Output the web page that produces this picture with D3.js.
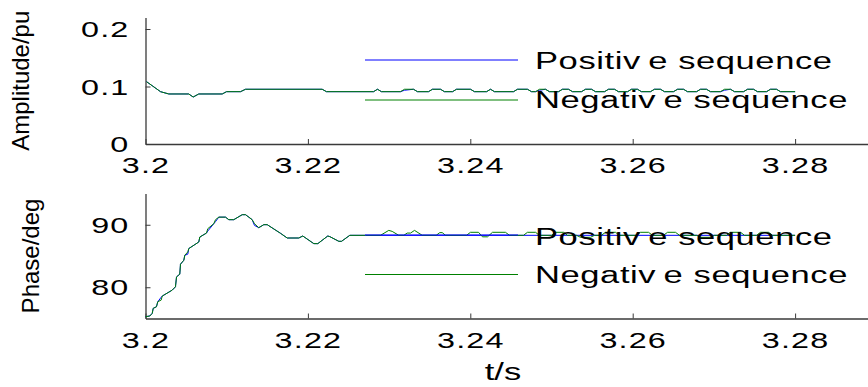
<!DOCTYPE html>
<html>
<head>
<meta charset="utf-8">
<script src="https://cdn.jsdelivr.net/npm/d3@7"></script>
<style>
  html, body { margin: 0; padding: 0; background: #fff; }
  svg { display: block; }
  text { font-family: "Liberation Sans", Arial, sans-serif; fill: #000; }
</style>
</head>
<body>
<svg id="chart" width="868" height="387"></svg>
<script>
// ---- axis ticks ----
const xTicks = [3.2, 3.22, 3.24, 3.26, 3.28];
const xTickLabels = ["3.2", "3.22", "3.24", "3.26", "3.28"];
const ampTicks = [0, 0.1, 0.2];
const ampTickLabels = ["0", "0.1", "0.2"];
const phaseTicks = [80, 90];
const phaseTickLabels = ["80", "90"];

// ---- series names ----
const seriesNames = ["Positive sequence", "Negative sequence"];

// ---- amplitude (pu) ----
const tAmp = [
  3.20012, 3.20185, 3.20287, 3.20533, 3.20587, 3.20656, 3.20945, 3.20998, 3.21170, 3.21232,
  3.22176, 3.22229, 3.22808, 3.22857, 3.22906, 3.23140, 3.23190, 3.23300, 3.23350, 3.23485,
  3.23534, 3.23633, 3.23682, 3.23781, 3.23830, 3.24002, 3.24052, 3.24200, 3.24249, 3.24298,
  3.24532, 3.24581, 3.24704, 3.24754,
  3.24803, 3.24852, 3.24926, 3.24975,
  3.25086, 3.25135, 3.25209, 3.25259,
  3.25369, 3.25419, 3.25493, 3.25542,
  3.25653, 3.25702, 3.25776, 3.25825,
  3.25936, 3.25985, 3.26059, 3.26108,
  3.26219, 3.26268, 3.26342, 3.26392,
  3.26502, 3.26552, 3.26626, 3.26675,
  3.26786, 3.26835, 3.26909, 3.26958,
  3.27081, 3.27131, 3.27204, 3.27254,
  3.27365, 3.27414, 3.27488, 3.27537,
  3.27648, 3.27697, 3.27771, 3.27820,
  3.28000
];
const ampNeg = [
  0.1085, 0.0910, 0.0870, 0.0870, 0.0817, 0.0870, 0.0870, 0.0910, 0.0910, 0.0952,
  0.0952, 0.0910, 0.0910, 0.0952, 0.0910, 0.0910, 0.0952, 0.0952, 0.0910, 0.0910,
  0.0952, 0.0952, 0.0910, 0.0910, 0.0952, 0.0952, 0.0910, 0.0910, 0.0952, 0.0910,
  0.0910, 0.0952, 0.0952, 0.0910,
  0.0910, 0.0952, 0.0952, 0.0910,
  0.0910, 0.0952, 0.0952, 0.0910,
  0.0910, 0.0952, 0.0952, 0.0910,
  0.0910, 0.0952, 0.0952, 0.0910,
  0.0910, 0.0952, 0.0952, 0.0910,
  0.0910, 0.0952, 0.0952, 0.0910,
  0.0910, 0.0952, 0.0952, 0.0910,
  0.0910, 0.0952, 0.0952, 0.0910,
  0.0910, 0.0952, 0.0952, 0.0910,
  0.0910, 0.0952, 0.0952, 0.0910,
  0.0910, 0.0952, 0.0952, 0.0910,
  0.0910
];
const ampPos = [
  0.1085, 0.0910, 0.0870, 0.0870, 0.0817, 0.0870, 0.0870, 0.0910, 0.0910, 0.0952,
  0.0952, 0.0910, 0.0910, 0.0952, 0.0910, 0.0910, 0.0935, 0.0952, 0.0910, 0.0910,
  0.0952, 0.0952, 0.0910, 0.0910, 0.0952, 0.0952, 0.0910, 0.0910, 0.0952, 0.0910,
  0.0910, 0.0952, 0.0952, 0.0910,
  0.0910, 0.0935, 0.0952, 0.0910,
  0.0910, 0.0952, 0.0952, 0.0910,
  0.0910, 0.0952, 0.0952, 0.0910,
  0.0910, 0.0952, 0.0952, 0.0910,
  0.0910, 0.0952, 0.0952, 0.0910,
  0.0910, 0.0952, 0.0952, 0.0910,
  0.0910, 0.0952, 0.0952, 0.0910,
  0.0910, 0.0952, 0.0952, 0.0910,
  0.0910, 0.0935, 0.0952, 0.0910,
  0.0910, 0.0952, 0.0952, 0.0910,
  0.0910, 0.0952, 0.0952, 0.0910,
  0.0910
];

// ---- phase (deg) ----
const tPhasePos = [
  3.20000, 3.20053, 3.20083, 3.20095, 3.20135, 3.20151, 3.20193, 3.20206, 3.20329, 3.20369,
  3.20382, 3.20422, 3.20431, 3.20472, 3.20484, 3.20521, 3.20533, 3.20656, 3.20669, 3.20751,
  3.20767, 3.20841, 3.20862, 3.20903, 3.20985, 3.21026, 3.21087, 3.21191, 3.21232, 3.21314,
  3.21342, 3.21395, 3.21457, 3.21499, 3.21663, 3.21745, 3.21888, 3.21937, 3.22073, 3.22122,
  3.22245, 3.22270, 3.22381, 3.22414, 3.22516, 3.22709, 3.28000
];
const phasePos = [
  75.29, 75.40, 75.83, 76.63, 76.88, 77.68, 78.40, 78.59, 79.54, 80.07,
  81.66, 82.09, 83.69, 84.32, 85.12, 85.30, 86.19, 87.24, 88.04, 88.67,
  89.00, 90.17, 90.50, 91.22, 91.22, 90.81, 90.81, 91.61, 91.61, 90.81,
  89.90, 89.53, 90.01, 90.01, 88.63, 87.88, 87.88, 88.20, 86.98, 86.98,
  88.20, 88.10, 87.35, 87.35, 88.31, 88.31, 88.31
];
const tPhaseNeg = [
  3.20000, 3.20053, 3.20083, 3.20095, 3.20135, 3.20151, 3.20193, 3.20206, 3.20329, 3.20369,
  3.20382, 3.20422, 3.20431, 3.20472, 3.20484, 3.20521, 3.20533, 3.20656, 3.20669, 3.20751,
  3.20767, 3.20841, 3.20862, 3.20903, 3.20985, 3.21026, 3.21087, 3.21191, 3.21232, 3.21314,
  3.21342, 3.21395, 3.21457, 3.21499, 3.21663, 3.21745, 3.21888, 3.21937, 3.22073, 3.22122,
  3.22245, 3.22270, 3.22381, 3.22414, 3.22516, 3.22709,
  3.22894, 3.22996, 3.23038, 3.23119, 3.23181, 3.23223, 3.23264, 3.23313, 3.23408, 3.23580,
  3.23624, 3.23654, 3.23695, 3.23953, 3.24002, 3.24101, 3.24150, 3.24212, 3.24273, 3.24433,
  3.24483, 3.24655, 3.24704, 3.24803, 3.24852, 3.25000, 3.25049, 3.25148, 3.25197, 3.25308,
  3.25357, 3.25480, 3.25530, 3.25616, 3.25665, 3.25788, 3.25837, 3.26047, 3.26096, 3.26195,
  3.26244, 3.26379, 3.26429, 3.26527, 3.26576, 3.26786, 3.26835, 3.26958, 3.27007, 3.27155,
  3.27204, 3.27328, 3.27377, 3.27525, 3.27574, 3.27672, 3.27722, 3.28000
];
const phaseNeg = [
  75.29, 75.40, 75.83, 76.63, 76.88, 77.68, 77.95, 78.59, 79.54, 80.07,
  81.66, 82.09, 83.69, 84.32, 85.12, 85.65, 86.19, 87.24, 88.04, 88.67,
  89.37, 90.17, 90.81, 91.22, 91.22, 90.81, 90.81, 91.61, 91.61, 90.81,
  90.17, 89.53, 90.01, 90.01, 88.63, 87.88, 87.88, 88.20, 86.98, 86.98,
  88.20, 88.10, 87.35, 87.35, 88.31, 88.31,
  88.31, 89.10, 88.94, 88.31, 88.31, 88.67, 88.67, 89.10, 88.31, 88.31,
  88.74, 88.74, 88.31, 88.31, 88.79, 88.79, 88.07, 88.07, 88.79, 88.79,
  88.31, 88.31, 88.79, 88.79, 88.31, 88.31, 88.79, 88.79, 88.31, 88.31,
  87.99, 87.99, 88.31, 88.31, 88.79, 88.79, 88.31, 88.31, 88.79, 88.79,
  88.31, 88.31, 88.79, 88.79, 88.31, 88.31, 87.99, 87.99, 88.31, 88.31,
  88.79, 88.79, 88.31, 88.31, 88.79, 88.79, 88.31, 88.31
];

// ---- drawing ----
const svg = d3.select("#chart");
const COLORS = { pos: "#0000ff", neg: "#008000" };
const AXIS_COLOR = "#3a3a3a";
const TICK_FONT = 22, LEGEND_FONT = 23.5, LABEL_FONT = 24;
const STRETCH = 1.47;   // horizontal glyph stretch of the figure's text

const x = d3.scaleLinear().domain([3.2, 3.3]).range([145.5, 957.5]);
const yAmp = d3.scaleLinear().domain([0, 0.22]).range([144, 17.5]);
const yPhase = d3.scaleLinear().domain([75, 95]).range([318.5, 193.5]);

function zip(ts, vs) { return ts.map((t, i) => [t, vs[i]]); }

function styleXAxis(g, labels) {
  g.select(".domain").attr("stroke", AXIS_COLOR).attr("stroke-width", 1.3);
  g.selectAll(".tick line").attr("stroke", AXIS_COLOR).attr("stroke-width", 1);
  g.selectAll(".tick text")
    .text((d, i) => labels[i])
    .attr("x", 0).attr("y", 0).attr("dy", null)
    .attr("transform", "translate(0,29) scale(" + STRETCH + ",1)")
    .attr("font-size", TICK_FONT)
    .attr("font-family", null)
    .style("letter-spacing", "0.8px")
    .attr("fill", "#000");
}
function styleYAxis(g, labels) {
  g.select(".domain").attr("stroke", AXIS_COLOR).attr("stroke-width", 1.3);
  g.selectAll(".tick line").attr("stroke", AXIS_COLOR).attr("stroke-width", 1);
  g.selectAll(".tick text")
    .text((d, i) => labels[i])
    .attr("x", 0).attr("dy", "0.35em")
    .attr("transform", "translate(-16,0) scale(" + STRETCH + ",1)")
    .attr("font-size", TICK_FONT)
    .attr("font-family", null)
    .style("letter-spacing", "0.8px")
    .attr("fill", "#000");
}

function panel(yScale, yTicks, yLabels, series, legendY, yTitle, yTitleX) {
  const xAxisY = yScale.range()[0];
  const gx = svg.append("g").attr("transform", "translate(0," + xAxisY + ")")
    .call(d3.axisBottom(x).tickValues(xTicks).tickSizeInner(-5).tickSizeOuter(0));
  styleXAxis(gx, xTickLabels);

  const gy = svg.append("g").attr("transform", "translate(" + x.range()[0] + ",0)")
    .call(d3.axisLeft(yScale).tickValues(yTicks).tickSizeInner(-5).tickSizeOuter(0));
  styleYAxis(gy, yLabels);

  const line = d3.line().x(d => x(d[0])).y(d => yScale(d[1]));
  series.forEach(s => {
    svg.append("path").datum(s.data)
      .attr("fill", "none").attr("stroke", s.color).attr("stroke-width", 1)
      .attr("stroke-linejoin", "round")
      .attr("d", line);
  });

  // legend (no frame)
  series.forEach((s, i) => {
    const ly = legendY[i];
    svg.append("line")
      .attr("x1", 365).attr("x2", 518).attr("y1", ly.line).attr("y2", ly.line)
      .attr("stroke", s.color).attr("stroke-width", 1);
    const t = svg.append("text")
      .attr("transform", "translate(535," + ly.text + ") scale(" + STRETCH + ",1)")
      .attr("font-size", LEGEND_FONT)
      .style("letter-spacing", "0.4px");
    const name = s.name;
    const cut = name.indexOf("e ");
    t.append("tspan").text(name.slice(0, cut));
    t.append("tspan").attr("dx", 5).text(name.slice(cut));
  });

  // y axis title
  const mid = (yScale.range()[0] + yScale.range()[1]) / 2;
  svg.append("text")
    .attr("transform", "translate(" + yTitleX + "," + mid + ") rotate(-90)")
    .attr("text-anchor", "middle")
    .attr("font-size", LABEL_FONT)
    .text(yTitle);
}

panel(yAmp, ampTicks, ampTickLabels, [
  { name: seriesNames[0], color: COLORS.pos, data: zip(tAmp, ampPos) },
  { name: seriesNames[1], color: COLORS.neg, data: zip(tAmp, ampNeg) }
], [{ line: 60, text: 69 }, { line: 100, text: 108 }], "Amplitude/pu", 29);

panel(yPhase, phaseTicks, phaseTickLabels, [
  { name: seriesNames[0], color: COLORS.pos, data: zip(tPhasePos, phasePos) },
  { name: seriesNames[1], color: COLORS.neg, data: zip(tPhaseNeg, phaseNeg) }
], [{ line: 235, text: 244.5 }, { line: 274.5, text: 283 }], "Phase/deg", 39);

// x axis title
svg.append("text")
  .attr("transform", "translate(503,380) scale(" + STRETCH + ",1)")
  .attr("text-anchor", "middle")
  .attr("font-size", LEGEND_FONT)
  .text("t/s");
</script>
</body>
</html>
